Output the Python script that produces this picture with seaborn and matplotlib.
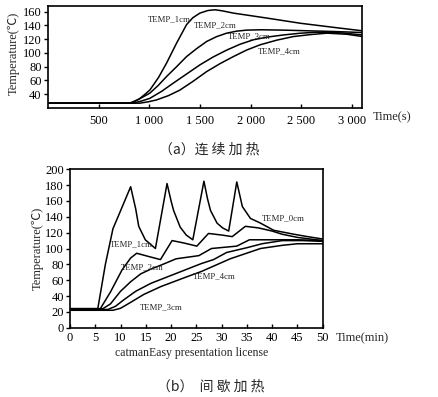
import numpy as np
import pandas as pd
import matplotlib
matplotlib.use("Agg")
import matplotlib.pyplot as plt
import seaborn as sns

# ---------------- data: (a) continuous heating, time in s ----------------
a_t1 = [0, 807, 850, 900, 950, 1005, 1090, 1170, 1269, 1368, 1430, 1500, 1580, 1650, 1720, 1830,
        2000, 2160, 2490, 2820, 3104]
a_v1 = [27, 27, 29, 33, 39, 46, 64, 85, 114, 141, 151, 157.7, 161.5, 162.5, 161, 157.7,
        154, 150.5, 143, 137, 132]
a_t2 = [0, 807, 900, 1005, 1090, 1170, 1270, 1368, 1466, 1566, 1664, 1764, 1862, 1962, 2100,
        2325, 2820, 3104]
a_v2 = [27, 27, 33, 41.5, 53, 65.6, 80, 94.6, 106, 116.5, 123.5, 128.6, 131.5, 133, 133.5,
        133, 131, 129.5]
a_t3 = [0, 840, 920, 1005, 1120, 1236, 1370, 1500, 1630, 1764, 1896, 2028, 2170, 2325, 2490,
        2655, 2900, 3104]
a_v3 = [27, 27, 30, 34, 44, 56, 69.5, 82.6, 94, 104, 112.5, 119, 123, 126, 128.5,
        130, 129, 126]
a_t4 = [0, 906, 990, 1071, 1190, 1302, 1430, 1566, 1700, 1830, 1960, 2094, 2260, 2424, 2590,
        2754, 2950, 3104]
a_v4 = [27, 27, 29, 31.7, 38, 46, 58.5, 72.8, 84.5, 94.6, 104, 111.7, 118.5, 123.7, 126.5,
        128.6, 127, 123.7]
a_names = ["TEMP_1cm", "TEMP_2cm", "TEMP_3cm", "TEMP_4cm"]
a_xticks = [500, 1000, 1500, 2000, 2500, 3000]
a_xticklabels = ["500", "1 000", "1 500", "2 000", "2 500", "3 000"]
a_yticks = [40, 60, 80, 100, 120, 140, 160]

# ---------------- data: (b) intermittent heating, time in min ----------------
b_t0 = [0, 5.5, 7, 8.5, 9.5, 12, 13, 13.6, 14.9, 16.9, 19.2, 20, 20.5, 21.8, 23, 24.3,
        26.5, 27.2, 27.8, 29.1, 30.2, 31.4, 33.0, 34.1, 35.7, 37.7, 40.3, 44.3, 47, 50]
b_v0 = [24, 24, 80, 125, 140, 178, 150, 128, 111, 100, 182, 160, 148, 127, 117, 111,
        185, 163, 148, 132, 126, 122, 184, 153, 138, 132, 123, 118, 115, 112]
b_t1 = [0, 6, 8, 10.3, 12, 13.2, 15.5, 17.9, 20.2, 22.5, 25.1, 27.4, 30, 32.1, 34.7, 37.3,
        40, 42, 45, 50]
b_v1 = [24, 24, 45, 73, 88, 94, 90, 86, 110, 107, 103, 119, 117, 115, 128, 126,
        122, 118, 114, 110]
b_t2 = [0, 6.5, 8, 10, 12, 14, 16, 18, 21, 25.5, 28, 33, 35.5, 40, 45, 50]
b_v2 = [24, 24, 30, 46, 58, 68, 74, 79, 87, 91, 100, 103, 111, 111, 111, 110]
b_t3 = [0, 7.5, 9, 10.6, 13, 16, 18, 22, 26, 28.4, 31, 35, 38, 42, 46, 50]
b_v3 = [23, 23, 27, 35, 46, 56, 61, 71, 81, 86, 95, 101, 106, 110, 110, 109]
b_t4 = [0, 8.5, 10, 12, 14.6, 18, 20.5, 23, 26, 31.7, 37.7, 42, 45, 50]
b_v4 = [22, 22, 24.5, 32, 42, 52, 58, 64, 71, 87, 100, 104, 106, 106]
b_names = ["TEMP_0cm", "TEMP_1cm", "TEMP_2cm", "TEMP_3cm", "TEMP_4cm"]
b_xticks = [0, 5, 10, 15, 20, 25, 30, 35, 40, 45, 50]
b_yticks = [0, 20, 40, 60, 80, 100, 120, 140, 160, 180, 200]

# label anchor positions (data coords)
a_lab_x = [1193, 1649, 1985, 2282]
a_lab_y = [149.4, 139.7, 123.7, 102]
b_lab_x = [42.2, 12.2, 14.3, 18.1, 28.6]
b_lab_y = [137.7, 105.3, 76.2, 25.7, 65]

# ---------------- build long-form frames ----------------
def longform(ts, vs, names, xcol, ycol):
    rows = []
    for t, v, n in zip(ts, vs, names):
        rows.append(pd.DataFrame({xcol: t, ycol: v, "series": n}))
    return pd.concat(rows, ignore_index=True)

df_a = longform([a_t1, a_t2, a_t3, a_t4], [a_v1, a_v2, a_v3, a_v4], a_names, "time_s", "temp")
df_b = longform([b_t0, b_t1, b_t2, b_t3, b_t4], [b_v0, b_v1, b_v2, b_v3, b_v4], b_names, "time_min", "temp")

sns.set_theme(style="ticks")
plt.rcParams["font.family"] = ["Liberation Serif", "Noto Sans CJK SC", "DejaVu Sans"]
plt.rcParams["axes.linewidth"] = 1.2
plt.rcParams["axes.edgecolor"] = "black"

W, H = 439, 397
fig = plt.figure(figsize=(W / 100, H / 100), dpi=100)

def box(l, r, t, b):
    return [l / W, 1 - b / H, (r - l) / W, (b - t) / H]

ax1 = fig.add_axes(box(48, 362, 6, 108))
ax2 = fig.add_axes(box(70, 322.7, 169.3, 327.7))

black_a = {n: "black" for n in a_names}
black_b = {n: "black" for n in b_names}

sns.lineplot(data=df_a, x="time_s", y="temp", hue="series", palette=black_a,
             legend=False, linewidth=1.1, sort=False, estimator=None, ax=ax1)
sns.lineplot(data=df_b, x="time_min", y="temp", hue="series", palette=black_b,
             legend=False, linewidth=1.1, sort=False, estimator=None, ax=ax2)
for ax in (ax1, ax2):
    for ln in ax.lines:
        ln.set_solid_joinstyle("round")

# ---- axes (a)
ax1.set_xlim(0, 3100)
ax1.set_ylim(20, 168)
ax1.set_xticks(a_xticks)
ax1.set_xticklabels(a_xticklabels)
ax1.set_yticks(a_yticks)
ax1.tick_params(axis="x", direction="in", length=3, width=1, labelsize=9, pad=5, colors="black")
ax1.tick_params(axis="y", direction="out", length=3, width=1, labelsize=9, pad=1.5, colors="black")
ax1.set_xlabel("Time(s)", fontsize=9)
ax1.xaxis.set_label_coords(1.096, -0.088)
ax1.xaxis.label.set_va("center")
ax1.set_ylabel("Temperature(℃)", fontsize=9)
ax1.yaxis.set_label_coords(-0.11, 0.54)
ax1.yaxis.label.set_va("center")
for n, x, y in zip(a_names, a_lab_x, a_lab_y):
    ax1.text(x, y, n, fontsize=6.3, ha="center", va="center")

# ---- axes (b)
ax2.set_xlim(0, 50)
ax2.set_ylim(0, 200)
ax2.set_xticks(b_xticks)
ax2.set_yticks(b_yticks)
ax2.tick_params(axis="x", direction="in", length=3, width=1, labelsize=9, pad=3, colors="black")
ax2.tick_params(axis="y", direction="out", length=3, width=1, labelsize=9, pad=1.5, colors="black")
ax2.set_xlabel("Time(min)", fontsize=9)
ax2.xaxis.set_label_coords(1.157, -0.065)
ax2.xaxis.label.set_va("center")
ax2.set_ylabel("Temperature(℃)", fontsize=9)
ax2.yaxis.set_label_coords(-0.127, 0.503)
ax2.yaxis.label.set_va("center")
for n, x, y in zip(b_names, b_lab_x, b_lab_y):
    ax2.text(x, y, n, fontsize=6.3, ha="center", va="center")

for ax in (ax1, ax2):
    for s in ax.spines.values():
        s.set_visible(True)
        s.set_color("black")

fig.text(192 / W, 1 - 353 / H, "catmanEasy presentation license", fontsize=8.5,
         ha="center", va="center")
fig.text(209 / W, 1 - 150 / H, "（a）连 续 加 热", fontsize=10, ha="center", va="center",
         family=["Noto Sans CJK SC", "DejaVu Sans"])
fig.text(211 / W, 1 - 387 / H, "（b）  间 歇 加 热", fontsize=10, ha="center", va="center",
         family=["Noto Sans CJK SC", "DejaVu Sans"])

fig.savefig("out.png", dpi=100, facecolor="white")
